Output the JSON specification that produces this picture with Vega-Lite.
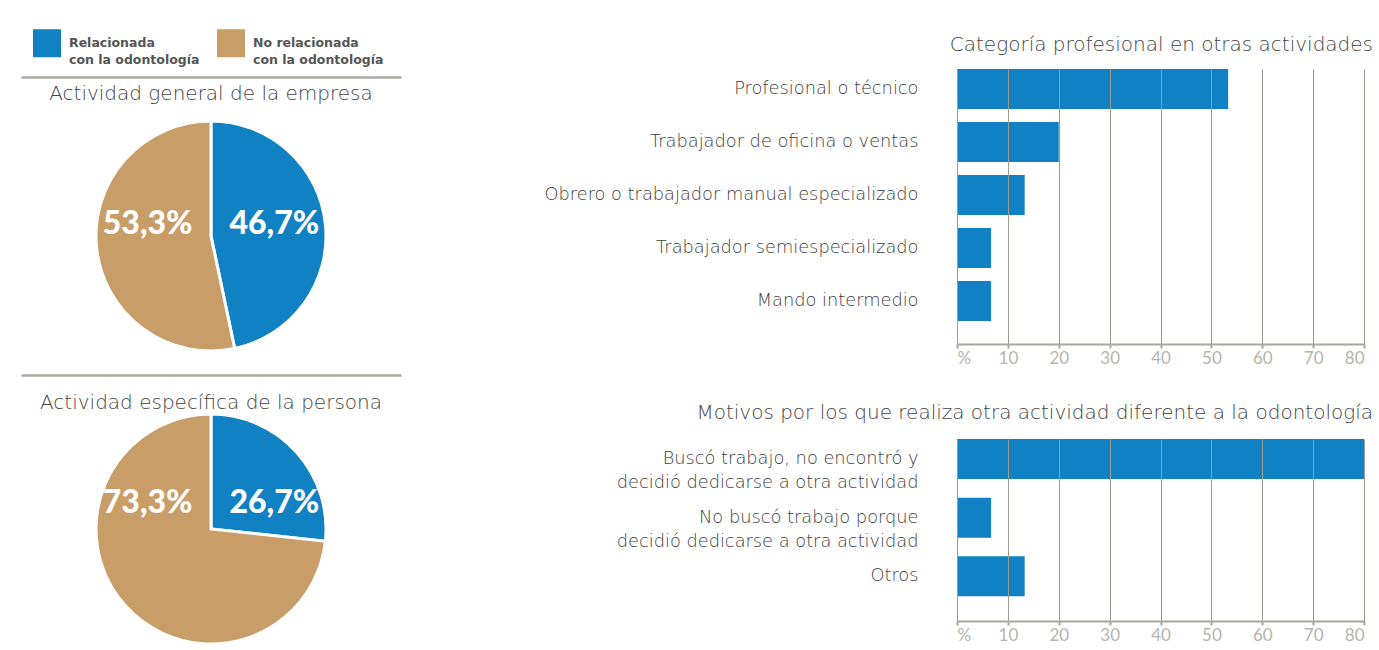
{
  "$schema": "https://vega.github.io/schema/vega-lite/v6.json",
  "padding": {"left": 21, "top": 29, "right": 5, "bottom": 0},
  "config": {
    "font": "DejaVu Sans",
    "view": {"stroke": null},
    "title": {"fontSize": 20, "fontWeight": 200, "color": "#444444", "font": "DejaVu Sans"},
    "style": {"guide-label": {"lineHeight": 17}}
  },
  "columns": 2,
  "bounds": "flush",
  "spacing": {"row": 36, "column": 556},
  "resolve": {"scale": {"color": "independent", "x": "independent", "y": "independent"}, "legend": {"color": "independent"}},
  "concat": [
    {
      "width": 380,
      "height": 334,
      "title": {"text": "Actividad general de la empresa", "offset": -75},
      "data": {"values": [
        {"categoria": "Relacionada con la odontología", "pct": 46.7},
        {"categoria": "No relacionada con la odontología", "pct": 53.3}
      ]},
      "transform": [{"calculate": "replace(format(datum.pct, '.1f'), '.', ',') + '%'", "as": "etiqueta"}],
      "layer": [
        {
          "mark": {"type": "arc", "outerRadius": 115, "stroke": "white", "strokeWidth": 3},
          "encoding": {
            "theta": {"field": "pct", "type": "quantitative", "stack": true},
            "order": {"field": "categoria", "sort": "descending"},
            "color": {
              "field": "categoria", "type": "nominal",
              "scale": {"domain": ["Relacionada con la odontología", "No relacionada con la odontología"], "range": ["#1081c2", "#c99d67"]},
              "legend": {
                "orient": "none", "legendX": 12, "legendY": -40,
                "direction": "horizontal", "columns": 2, "columnPadding": 17,
                "title": null, "symbolType": "square", "symbolSize": 784, "symbolStrokeWidth": 0,
                "symbolOpacity": 1,
                "labelFont": "DejaVu Sans", "labelFontSize": 12.5, "labelFontWeight": "bold", "labelColor": "#555555", "labelOffset": 8,
                "labelExpr": "[replace(datum.label, ' con la odontología', ''), 'con la odontología']"
              }
            }
          }
        },
        {
          "mark": {"type": "text", "font": "Lato", "fontSize": 32, "fontWeight": 900, "color": "white", "dy": -12},
          "encoding": {
            "x": {
              "field": "categoria", "type": "nominal", "sort": ["No relacionada con la odontología", "Relacionada con la odontología"],
              "scale": {"type": "point", "padding": 1.045},
              "axis": {"orient": "top", "offset": -8, "title": null, "labels": false, "ticks": false, "grid": false, "domain": true, "domainColor": "#acaca4", "domainWidth": 2.5}
            },
            "text": {"field": "etiqueta", "type": "nominal"}
          }
        }
      ]
    },
    {
      "width": 407,
      "height": 275,
      "title": {"text": "Categoría profesional en otras actividades", "anchor": "end", "offset": 14, "dx": 8},
      "data": {"values": [
        {"categoria": "Profesional o técnico", "pct": 53.3},
        {"categoria": "Trabajador de oficina o ventas", "pct": 20.0},
        {"categoria": "Obrero o trabajador manual especializado", "pct": 13.3},
        {"categoria": "Trabajador semiespecializado", "pct": 6.7},
        {"categoria": "Mando intermedio", "pct": 6.7}
      ]},
      "mark": {"type": "bar", "color": "#1081c2"},
      "encoding": {
        "y": {
          "field": "categoria", "type": "nominal", "sort": null,
          "scale": {"paddingInner": 0.245, "paddingOuter": 0.217, "align": 0},
          "axis": {"title": null, "ticks": false, "domain": false, "grid": false, "labelFont": "DejaVu Sans", "labelFontWeight": 200, "labelFontSize": 17.8, "labelColor": "#3d3d3d", "labelPadding": 39, "labelLimit": 500}
        },
        "x": {
          "field": "pct", "type": "quantitative",
          "scale": {"domain": [0, 80], "nice": false},
          "axis": {
            "title": null, "values": [0, 10, 20, 30, 40, 50, 60, 70, 80], "zindex": 1,
            "grid": true, "gridColor": "#9c9c94", "gridWidth": 1,
            "domainColor": "#a8a8a0", "domainWidth": 2, "tickColor": "#a8a8a0", "tickSize": 4, "tickWidth": 2,
            "labelFont": "Lato", "labelColor": "#b5b5ad", "labelFontSize": 17, "labelPadding": 2,
            "labelExpr": "datum.value == 0 ? '%' : datum.label"
          }
        }
      }
    },
    {
      "width": 380,
      "height": 180,
      "title": {"text": "Actividad específica de la persona", "offset": -38},
      "data": {"values": [
        {"categoria": "Relacionada con la odontología", "pct": 26.7},
        {"categoria": "No relacionada con la odontología", "pct": 73.3}
      ]},
      "transform": [{"calculate": "replace(format(datum.pct, '.1f'), '.', ',') + '%'", "as": "etiqueta"}],
      "layer": [
        {
          "mark": {"type": "arc", "outerRadius": 115, "stroke": "white", "strokeWidth": 3},
          "encoding": {
            "theta": {"field": "pct", "type": "quantitative", "stack": true},
            "order": {"field": "categoria", "sort": "descending"},
            "color": {
              "field": "categoria", "type": "nominal",
              "scale": {"domain": ["Relacionada con la odontología", "No relacionada con la odontología"], "range": ["#1081c2", "#c99d67"]},
              "legend": null
            }
          }
        },
        {
          "mark": {"type": "text", "font": "Lato", "fontSize": 32, "fontWeight": 900, "color": "white", "dy": -26},
          "encoding": {
            "x": {
              "field": "categoria", "type": "nominal", "sort": ["No relacionada con la odontología", "Relacionada con la odontología"],
              "scale": {"type": "point", "padding": 1.2},
              "axis": {"orient": "top", "offset": 64, "title": null, "labels": false, "ticks": false, "grid": false, "domain": true, "domainColor": "#acaca4", "domainWidth": 2.5}
            },
            "text": {"field": "etiqueta", "type": "nominal"}
          }
        }
      ]
    },
    {
      "width": 407,
      "height": 182,
      "title": {"text": "Motivos por los que realiza otra actividad diferente a la odontología", "anchor": "end", "offset": 16, "dx": 8},
      "data": {"values": [
        {"categoria": "Buscó trabajo, no encontró y decidió dedicarse a otra actividad", "pct": 80.0},
        {"categoria": "No buscó trabajo porque decidió dedicarse a otra actividad", "pct": 6.7},
        {"categoria": "Otros", "pct": 13.3}
      ]},
      "mark": {"type": "bar", "color": "#1081c2"},
      "encoding": {
        "y": {
          "field": "categoria", "type": "nominal", "sort": null,
          "scale": {"paddingInner": 0.316, "paddingOuter": 0.21, "align": 0},
          "axis": {"title": null, "ticks": false, "domain": false, "grid": false, "labelFont": "DejaVu Sans", "labelFontWeight": 200, "labelFontSize": 17.8, "labelColor": "#3d3d3d", "labelPadding": 39, "labelLimit": 500, "labelLineHeight": 24,
            "labelExpr": "split(replace(datum.label, ' decidió', '|decidió'), '|')"}
        },
        "x": {
          "field": "pct", "type": "quantitative",
          "scale": {"domain": [0, 80], "nice": false},
          "axis": {
            "title": null, "values": [0, 10, 20, 30, 40, 50, 60, 70, 80], "zindex": 1,
            "grid": true, "gridColor": "#9c9c94", "gridWidth": 1,
            "domainColor": "#a8a8a0", "domainWidth": 2, "tickColor": "#a8a8a0", "tickSize": 4, "tickWidth": 2,
            "labelFont": "Lato", "labelColor": "#b5b5ad", "labelFontSize": 17, "labelPadding": 2,
            "labelExpr": "datum.value == 0 ? '%' : datum.label"
          }
        }
      }
    }
  ]
}
